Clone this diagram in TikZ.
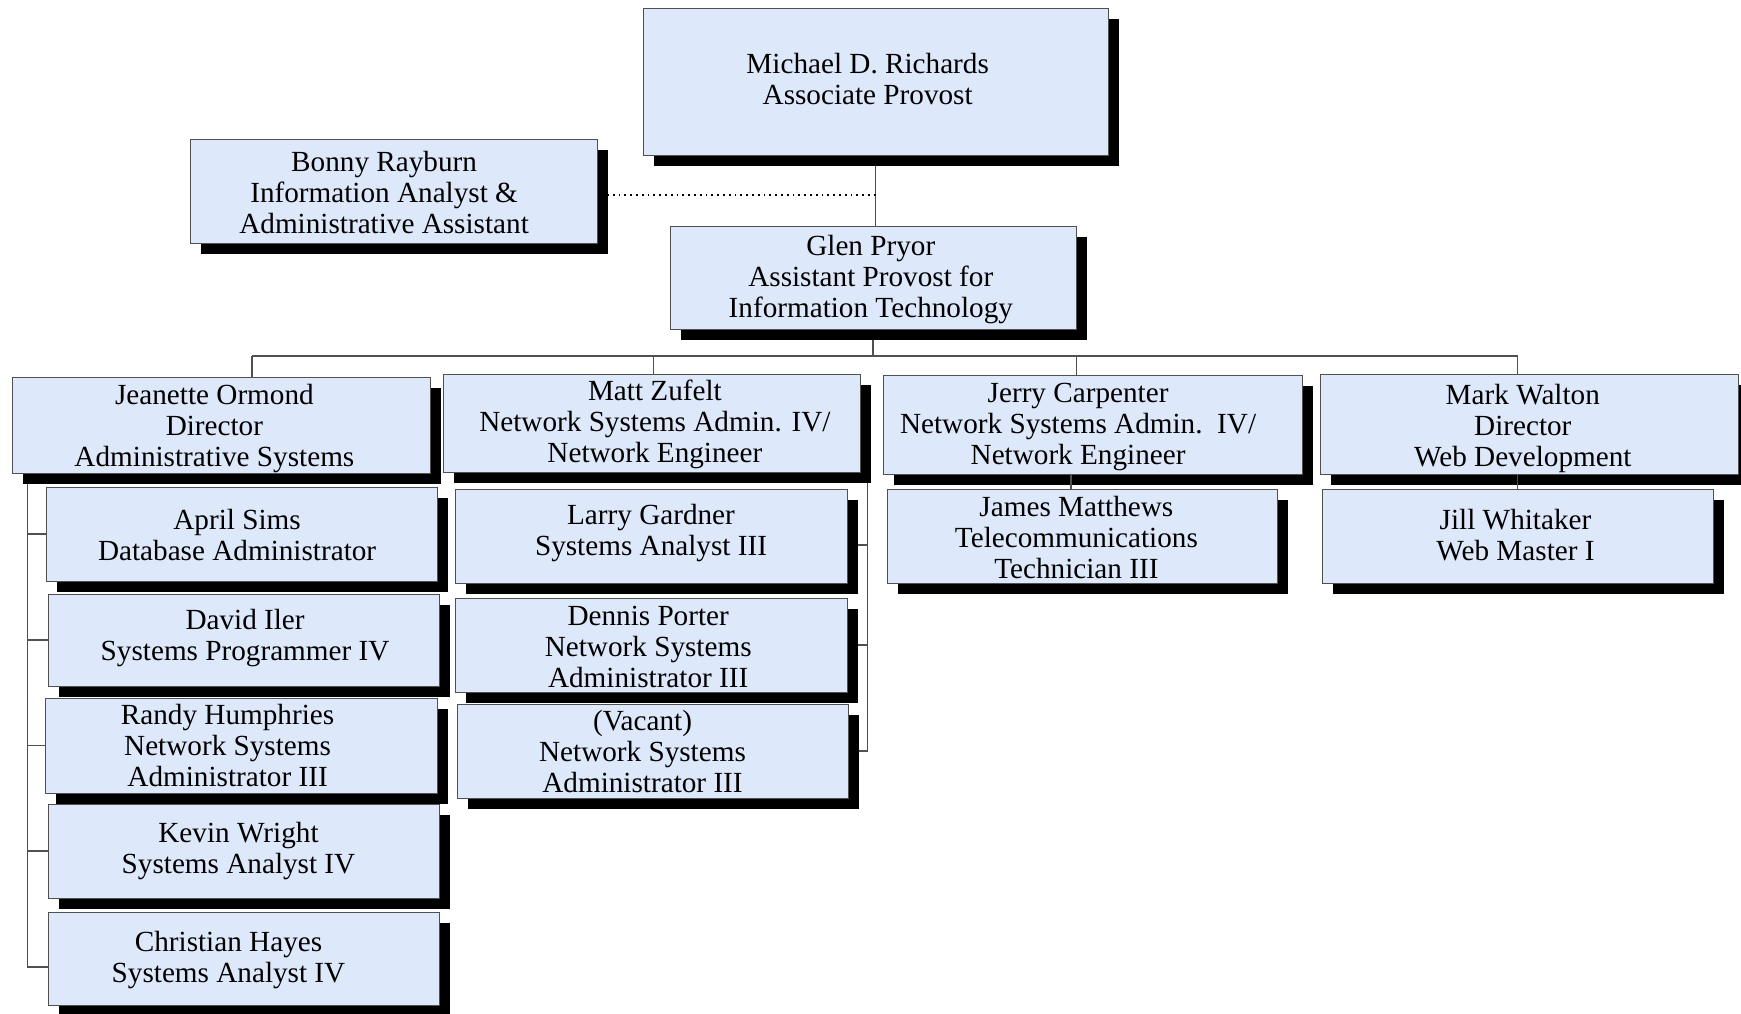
\documentclass[tikz,border=0pt]{standalone}
\usepackage{fontspec}
\setmainfont{Liberation Serif}
\usepackage{tikz}
\usetikzlibrary{calc, shadows, backgrounds}
\definecolor{boxblue}{HTML}{DDE8FA}
\definecolor{linegray}{HTML}{505050}
\newcommand{\boxtext}[3]{\kern-#1\raisebox{-#2}[\height][\depth]{\begin{tabular}{@{}c@{}}#3\end{tabular}}\kern#1}
\tikzset{
  box/.style 2 args={rectangle, draw=linegray, line width=0.5pt, fill=boxblue, inner sep=0pt,
    minimum width=#1*0.5pt, minimum height=#2*0.5pt, font=\fontsize{14.6}{15.5}\selectfont,
    drop shadow={shadow xshift=5.5pt, shadow yshift=-5.5pt, opacity=1, fill=black}},
  link/.style={draw=linegray, line width=0.6pt}
}

\begin{document}
\begin{tikzpicture}[x=0.5pt, y=-0.5pt]
\useasboundingbox (0,0) rectangle (1741,1013);

\node[box={465}{147}] (Michael) at (875.5,81.5) {\boxtext{3.9pt}{0.5pt}{Michael D. Richards\\Associate Provost}};
\node[box={407}{104}] (Bonny) at (393.5,191) {\boxtext{4.7pt}{2.8pt}{Bonny Rayburn\\Information Analyst \&\\Administrative Assistant}};
\node[box={406}{103}] (Glen) at (873,277.5) {\boxtext{1.1pt}{1.4pt}{Glen Pryor\\Assistant Provost for\\Information Technology}};

\node[box={418}{96}] (Jeanette) at (221,425) {\boxtext{3.3pt}{2.2pt}{Jeanette Ormond\\Director\\Administrative Systems}};
\node[box={417}{98}] (Matt) at (651.5,423) {\boxtext{-1.7pt}{1.1pt}{Matt Zufelt\\Network Systems Admin. IV/\\Network Engineer}};
\node[box={419}{99}] (Jerry) at (1092.5,424.5) {\boxtext{7.2pt}{1.2pt}{Jerry Carpenter\\Network Systems Admin.\ \ IV/\\Network Engineer}};
\node[box={418}{100}] (Mark) at (1529,424) {\boxtext{3.1pt}{2.8pt}{Mark Walton\\Director\\Web Development}};

\node[box={391}{94}] (April) at (241.5,534) {\boxtext{2.2pt}{2.2pt}{April Sims\\Database Administrator}};
\node[box={391}{92}] (David) at (243.5,640) {\boxtext{-0.8pt}{-0.6pt}{David Iler\\Systems Programmer IV}};
\node[box={392}{95}] (Randy) at (241,745.5) {\boxtext{6.7pt}{1.7pt}{Randy Humphries\\Network Systems\\Administrator III}};
\node[box={391}{94}] (Kevin) at (243.5,851) {\boxtext{2.5pt}{0.5pt}{Kevin Wright\\Systems Analyst IV}};
\node[box={391}{93}] (Christian) at (243.5,958.5) {\boxtext{7.5pt}{1.1pt}{Christian Hayes\\Systems Analyst IV}};

\node[box={392}{94}] (Larry) at (651,536) {\boxtext{0pt}{-1.1pt}{Larry Gardner\\Systems Analyst III}};
\node[box={392}{94}] (Dennis) at (651,645) {\boxtext{1.4pt}{2.5pt}{Dennis Porter\\Network Systems\\Administrator III}};
\node[box={391}{94}] (Vacant) at (652.5,751) {\boxtext{5pt}{2.3pt}{(Vacant)\\Network Systems\\Administrator III}};

\node[box={390}{94}] (James) at (1082,536) {\boxtext{2.8pt}{2.5pt}{James Matthews\\Telecommunications\\Technician III}};
\node[box={391}{94}] (Jill) at (1517.5,536) {\boxtext{1pt}{1.2pt}{Jill Whitaker\\Web Master I}};

\coordinate (dotlevel) at (0,195);
\coordinate (bus) at (0,356);
\coordinate (jo) at ([xshift=15.5pt]Jeanette.north);
\coordinate (mz) at ([xshift=1pt]Matt.north);
\coordinate (jc) at ([xshift=-8pt]Jerry.north);
\coordinate (mw) at (Jill.north |- Mark.north);
\coordinate (js) at ([xshift=8pt]Jeanette.south west);
\coordinate (ct) at ([yshift=-4.25pt]Christian.west);
\coordinate (ms) at ([xshift=3.5pt]Matt.south east);
\coordinate (lt) at ([yshift=-4.5pt]Larry.east);
\coordinate (jm) at ([xshift=-5.5pt]James.north);

\begin{scope}[on background layer]
\draw[link] (Michael.south) -- (Michael.south |- Glen.north);
\draw[dotted, line width=0.9pt] (Michael.south |- dotlevel) -- (Bonny.east |- dotlevel);
\draw[link] (Glen.south) -- (Glen.south |- bus);
\draw[link] (jo |- bus) -- (mw |- bus);
\foreach \c in {jo, mz, jc, mw}
  \draw[link] (\c |- bus) -- (\c);
\draw[link] (js) -- (js |- ct) -- (ct);
\foreach \n in {April, David, Randy, Kevin}
  \draw[link] (js |- \n.west) -- (\n.west);
\draw[link] (ms) -- (ms |- Vacant.east);
\foreach \n in {lt, Dennis.east, Vacant.east}
  \draw[link] (\n) -- (ms |- \n);
\end{scope}

\draw[link] (jm |- Jerry.south) -- (jm);
\draw[link] (Jill.north |- Mark.south) -- (Jill.north);
\end{tikzpicture}
\end{document}
